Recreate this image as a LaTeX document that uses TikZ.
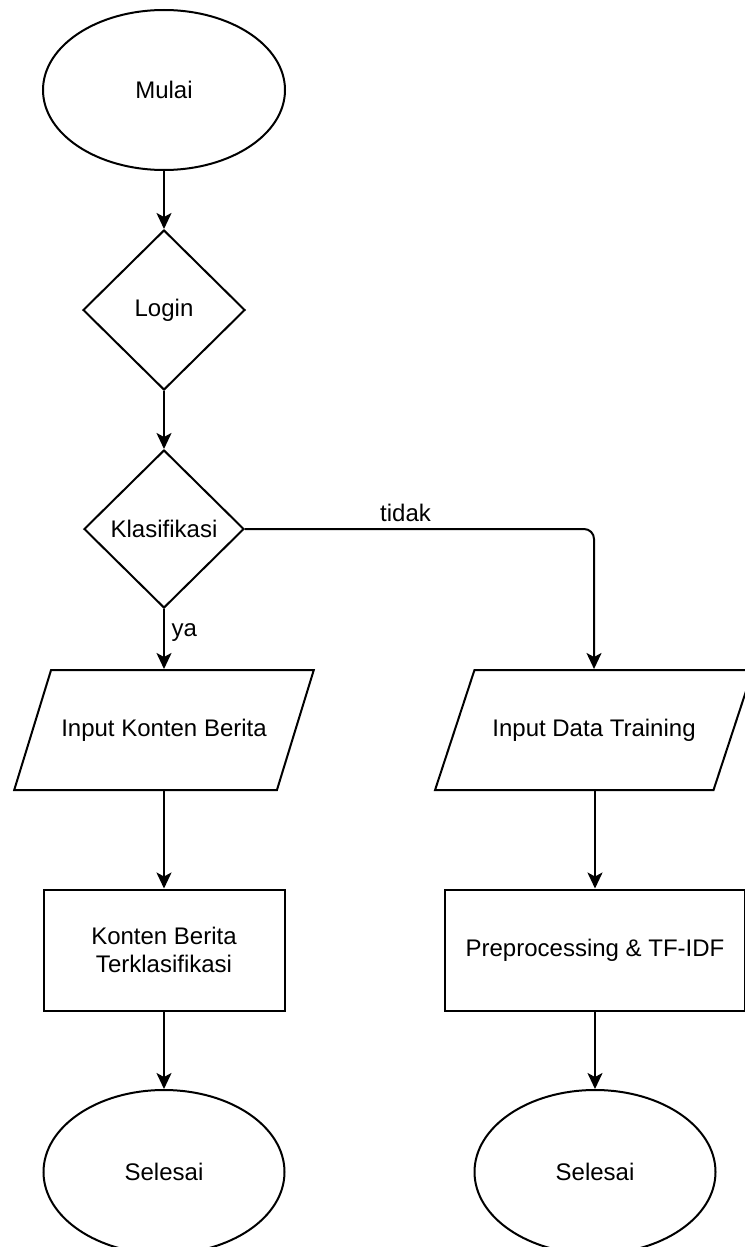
\documentclass[tikz,border=0pt]{standalone}
\usepackage{fontspec}
\setmainfont{Liberation Sans}
\usetikzlibrary{shapes.geometric, arrows.meta}

\tikzset{
  terminal/.style = {draw, ellipse, line width=1pt, inner sep=0pt},
  decision/.style = {draw, diamond, line width=1pt, inner sep=0pt},
  io/.style = {draw, trapezium, trapezium stretches=true,
    trapezium left angle=45, trapezium right angle=135,
    line width=1pt, minimum width=150pt, minimum height=60pt},
  process/.style = {draw, rectangle, line width=1pt, align=center, minimum height=60.5pt},
  arr/.style = {line width=1pt, -{Stealth[length=8pt, width=7.5pt, inset=2pt]}}
}

\begin{document}
\begin{tikzpicture}[x=0.5pt, y=-0.5pt, font=\fontsize{12}{14}\selectfont]
\useasboundingbox (0,0) rectangle (744,1247);
\node[terminal, minimum width=121pt, minimum height=80pt] (mulai) at (164,90) {Mulai};
\node[decision, minimum width=81pt, minimum height=80pt] (login) at (164,310) {Login};
\node[decision, minimum width=80pt, minimum height=79pt] (klas) at (164,529) {Klasifikasi};
\node[io] (inKonten) at (164,730) {Input Konten Berita};
\node[io, minimum width=159pt] (inData) at (594,730) {Input Data Training};
\node[process, minimum width=120.5pt] (hasil) at (164,950) {Konten Berita\\Terklasifikasi};
\node[process, minimum width=150pt] (tfidf) at (595,950) {Preprocessing \& TF-IDF};
\node[terminal, minimum width=120.5pt, minimum height=82pt] (selesaiA) at (164,1172) {Selesai};
\node[terminal, minimum width=120.5pt, minimum height=82pt] (selesaiB) at (595,1172) {Selesai};

\draw[arr] (mulai) -- (login);
\draw[arr] (login) -- (klas);
\draw[arr] (klas) -- node[pos=0.4, right] {ya} (inKonten.north -| klas);
\draw[arr, rounded corners=5pt] (klas.east) -| node[pos=0.23, above] {tidak} (inData.north);
\draw[arr] (inKonten.south -| hasil) -- (hasil);
\draw[arr] (inData.south -| tfidf) -- (tfidf);
\draw[arr] (hasil) -- (selesaiA);
\draw[arr] (tfidf) -- (selesaiB);
\end{tikzpicture}
\end{document}
